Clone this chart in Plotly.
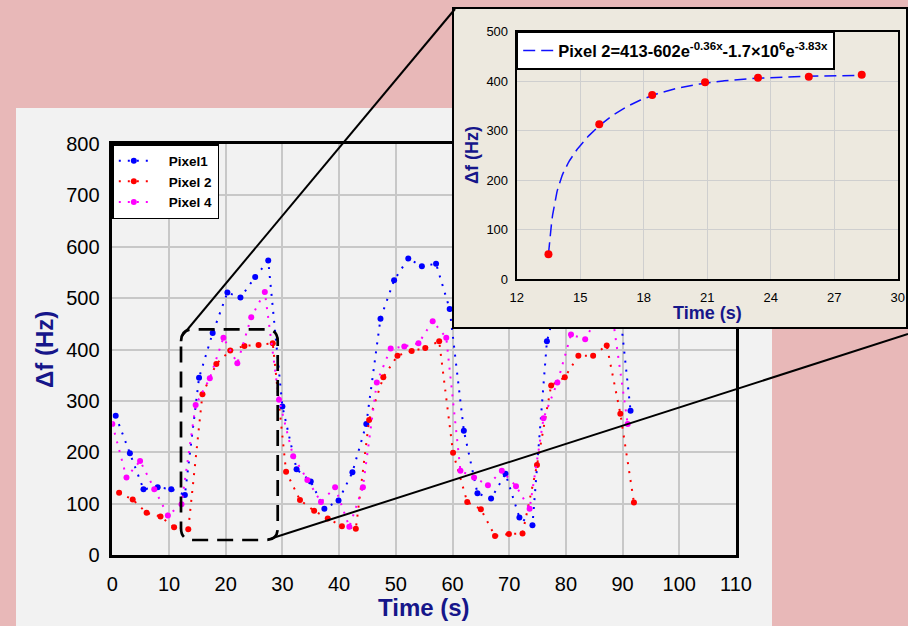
import math
import plotly.graph_objects as go

W, H = 908, 626

# ---------------- data ----------------
time_pixel1 = [0.6, 3.1, 5.5, 8.0, 10.4, 12.8, 15.3, 17.7, 20.3, 22.6, 25.2, 27.5, 30.0,
               32.5, 35.0, 37.4, 39.9, 42.35, 44.8, 47.3, 49.7, 52.2, 54.6, 57.1, 59.5,
               62.0, 64.4, 66.8, 69.35, 71.8, 74.1, 76.65, 79.1, 81.55, 84.0, 86.5, 88.95, 91.4]
pixel1 = [271, 198, 128, 132, 128, 117, 345, 432, 511, 501, 541, 573, 289,
          167, 143, 90, 106, 161, 255, 460, 535, 577, 562, 567, 479,
          242, 120, 110, 158, 73, 58, 416, 520, 560, 570, 560, 535, 281]

time_pixel2 = [1.2, 3.6, 6.05, 8.5, 10.9, 13.4, 15.9, 18.35, 20.8, 23.3, 25.8, 28.3, 30.65,
               33.1, 35.6, 38.0, 40.5, 42.95, 45.3, 47.8, 50.3, 52.8, 55.2, 57.65, 60.1,
               62.6, 65.0, 67.5, 69.95, 72.35, 74.9, 77.4, 79.8, 82.2, 84.8, 87.2, 89.6, 92.0]
pixel2 = [121, 108, 82, 75, 54, 50, 313, 372, 398, 407, 409, 412, 162,
          107, 86, 71, 56, 51, 263, 346, 388, 397, 403, 416, 199,
          103, 89, 37, 41, 42, 175, 330, 346, 388, 388, 408, 275, 102]

time_pixel4 = [0.0, 2.5, 4.9, 7.4, 9.8, 12.2, 14.7, 17.2, 19.6, 22.05, 24.5, 26.9, 29.4,
               31.9, 34.4, 36.8, 39.3, 41.8, 44.2, 46.65, 49.1, 51.5, 54.0, 56.5, 58.9,
               61.4, 63.8, 66.25, 68.7, 71.2, 73.6, 76.05, 78.5, 80.9, 83.4, 85.9, 88.35, 90.9]
pixel4 = [255, 151, 183, 128, 77, 99, 292, 344, 423, 373, 463, 512, 302,
          192, 146, 103, 132, 55, 132, 336, 402, 406, 412, 455, 423,
          164, 151, 136, 164, 134, 90, 266, 336, 429, 420, 470, 455, 255]

inset_time = [13.5, 15.9, 18.4, 20.9, 23.4, 25.8, 28.3]
inset_pixel2 = [50, 313, 372, 398, 407, 409, 413]

# fit shown in the inset legend: 413 - 602 e^{-0.36x} - 1.7e6 e^{-3.83x}, x = t - 11
fit_A, fit_B, fit_k1, fit_C, fit_k2, fit_t0 = 413.0, 602.0, 0.36, 1.7e6, 3.83, 11.0
fit_t = [inset_time[0] + i * 0.05 for i in range(int((inset_time[-1] - inset_time[0]) / 0.05) + 1)]
fit_y = [fit_A - fit_B * math.exp(-fit_k1 * (t - fit_t0)) - fit_C * math.exp(-fit_k2 * (t - fit_t0))
         for t in fit_t]

main_xticks = list(range(0, 111, 10))
main_yticks = list(range(0, 801, 100))
inset_xticks = list(range(12, 31, 3))
inset_yticks = list(range(0, 501, 100))

# ---------------- style ----------------
PINK = "#e8b8b8"
PANEL = "#f2f2f2"
BEIGE = "#ede9df"
NAVY = "#16168a"
GRID = "#c8c8c8"
FONT = "Liberation Sans, Arial, sans-serif"
PAD = "\u00a0" * 4


def px(x):
    return x / W


def py(y):
    return 1 - y / H


fig = go.Figure()

series = [
    ("Pixel1", time_pixel1, pixel1, "#0000ff"),
    ("Pixel 2", time_pixel2, pixel2, "#ff0000"),
    ("Pixel 4", time_pixel4, pixel4, "#ff00ff"),
]
for name, xs, ys, col in series:
    fig.add_trace(go.Scatter(
        x=xs, y=ys, name=PAD + name, mode="lines+markers",
        line=dict(color=col, width=2, dash="2px,7px"),
        marker=dict(color=col, size=6),
        xaxis="x", yaxis="y", legend="legend",
    ))

# inset background (covers main plot beneath it)
fig.add_trace(go.Scatter(
    x=[0, 1, 1, 0, 0], y=[0, 0, 1, 1, 0], mode="lines", fill="toself",
    fillcolor=BEIGE, line=dict(width=0, color=BEIGE), hoverinfo="skip",
    showlegend=False, xaxis="x2", yaxis="y2",
))

fig.add_trace(go.Scatter(
    x=fit_t, y=fit_y, mode="lines",
    name="Pixel 2=413-602e<sup>-0.36x</sup>-1.7×10<sup>6</sup>e<sup>-3.83x</sup>",
    line=dict(color="#1010ff", width=1.5, dash="12px,6px"),
    xaxis="x3", yaxis="y3", legend="legend2",
))
fig.add_trace(go.Scatter(
    x=inset_time, y=inset_pixel2, mode="markers", showlegend=False,
    marker=dict(color="#ff0000", size=8),
    xaxis="x3", yaxis="y3",
))

# geometry (pixels)
MX0, MX1, MY0, MY1 = 112.3, 736.0, 555.0, 144.0   # main plot area
IX0, IX1, IY0, IY1 = 516.7, 897.7, 279.0, 31.7    # inset plot area
BX0, BX1, BY0, BY1 = 453.0, 907.0, 328.0, 8.0     # inset box

axis_common = dict(showline=True, linecolor="black", mirror=True, zeroline=False,
                   ticks="", showgrid=True, automargin=False)

fig.update_layout(
    width=W, height=H, autosize=False,
    margin=dict(l=0, r=0, t=0, b=0, pad=0, autoexpand=False),
    paper_bgcolor=PINK,
    plot_bgcolor="rgba(0,0,0,0)",
    font=dict(family=FONT, color="black"),
    xaxis=dict(domain=[px(MX0), px(MX1)], range=[0, 110], tickvals=main_xticks,
               gridcolor=GRID, gridwidth=1.5, linewidth=2.5,
               tickfont=dict(size=20, color="black"), ticklabelstandoff=9,
               anchor="y", **axis_common),
    yaxis=dict(domain=[py(MY0), py(MY1)], range=[0, 800], tickvals=main_yticks,
               gridcolor=GRID, gridwidth=1.5, linewidth=2.5,
               tickfont=dict(size=20, color="black"), ticklabelstandoff=6,
               anchor="x", **axis_common),
    xaxis2=dict(domain=[px(BX0), px(BX1)], range=[0, 1], visible=False, anchor="y2"),
    yaxis2=dict(domain=[py(BY0), py(BY1)], range=[0, 1], visible=False, anchor="x2"),
    xaxis3=dict(domain=[px(IX0), px(IX1)], range=[12, 30], tickvals=inset_xticks,
                gridcolor="#cfcfcf", gridwidth=1, linewidth=2,
                tickfont=dict(size=13, color="black"), ticklabelstandoff=5,
                anchor="y3", **axis_common),
    yaxis3=dict(domain=[py(IY0), py(IY1)], range=[0, 500], tickvals=inset_yticks,
                gridcolor="#cfcfcf", gridwidth=1, linewidth=2,
                tickfont=dict(size=13, color="black"), ticklabelstandoff=4,
                anchor="x3", **axis_common),
    legend=dict(x=px(MX0), y=py(MY1), xanchor="left", yanchor="top",
                bgcolor="white", bordercolor="black", borderwidth=1.5,
                font=dict(size=13.5, family=FONT, weight="bold", color="black"),
                tracegroupgap=0),
    legend2=dict(x=px(IX0), y=py(IY1), xanchor="left", yanchor="top",
                 bgcolor="white", bordercolor="black", borderwidth=1.5,
                 font=dict(size=16.5, family=FONT, weight="bold", color="black")),
    showlegend=True,
)

# titles
title_specs = [
    (424, 607, "Time (s)", 0, 24),
    (44, 350, "Δf (Hz)", -90, 24),
    (707, 313, "Time (s)", 0, 18),
    (472, 155, "Δf (Hz)", -90, 18),
]
for tx, ty, txt, ang, sz in title_specs:
    fig.add_annotation(x=px(tx), y=py(ty), xref="paper", yref="paper", text=f"<b>{txt}</b>",
                       textangle=ang, showarrow=False, xanchor="center", yanchor="middle",
                       font=dict(size=sz, color=NAVY, family=FONT))

# background panel
fig.add_shape(type="rect", xref="paper", yref="paper", layer="below",
              x0=px(16), x1=px(772), y0=py(626), y1=py(108),
              fillcolor=PANEL, line=dict(width=0))
# inset border
fig.add_shape(type="rect", xref="paper", yref="paper", layer="above",
              x0=px(BX0), x1=px(BX1), y0=py(BY0), y1=py(BY1),
              line=dict(color="black", width=2))

# zoom rounded rectangle (paper coords)
L, R, T, B, r = 181.0, 277.7, 329.3, 540.0, 12.0
pts = [
    ("M", L, T + r), ("Q", L, T, L + r, T), ("L", R - r, T), ("Q", R, T, R, T + r),
    ("L", R, B - r), ("Q", R, B, R - r, B), ("L", L + r, B), ("Q", L, B, L, B - r), ("Z",),
]
path = ""
for p in pts:
    if p[0] in ("M", "L"):
        path += f"{p[0]} {px(p[1]):.5f},{py(p[2]):.5f} "
    elif p[0] == "Q":
        path += f"Q {px(p[1]):.5f},{py(p[2]):.5f} {px(p[3]):.5f},{py(p[4]):.5f} "
    else:
        path += "Z"
fig.add_shape(type="path", xref="paper", yref="paper", layer="above", path=path,
              line=dict(color="black", width=2.7, dash="16px,9px"))

# connecting lines
fig.add_shape(type="line", xref="paper", yref="paper", layer="above",
              x0=px(182), y0=py(336), x1=px(455), y1=py(9),
              line=dict(color="black", width=2))
fig.add_shape(type="line", xref="paper", yref="paper", layer="above",
              x0=px(268), y0=py(539.5), x1=px(908), y1=py(334),
              line=dict(color="black", width=2))

fig.write_html("out.html", config={"displayModeBar": False},
               post_script="document.body.style.margin='0px';")
